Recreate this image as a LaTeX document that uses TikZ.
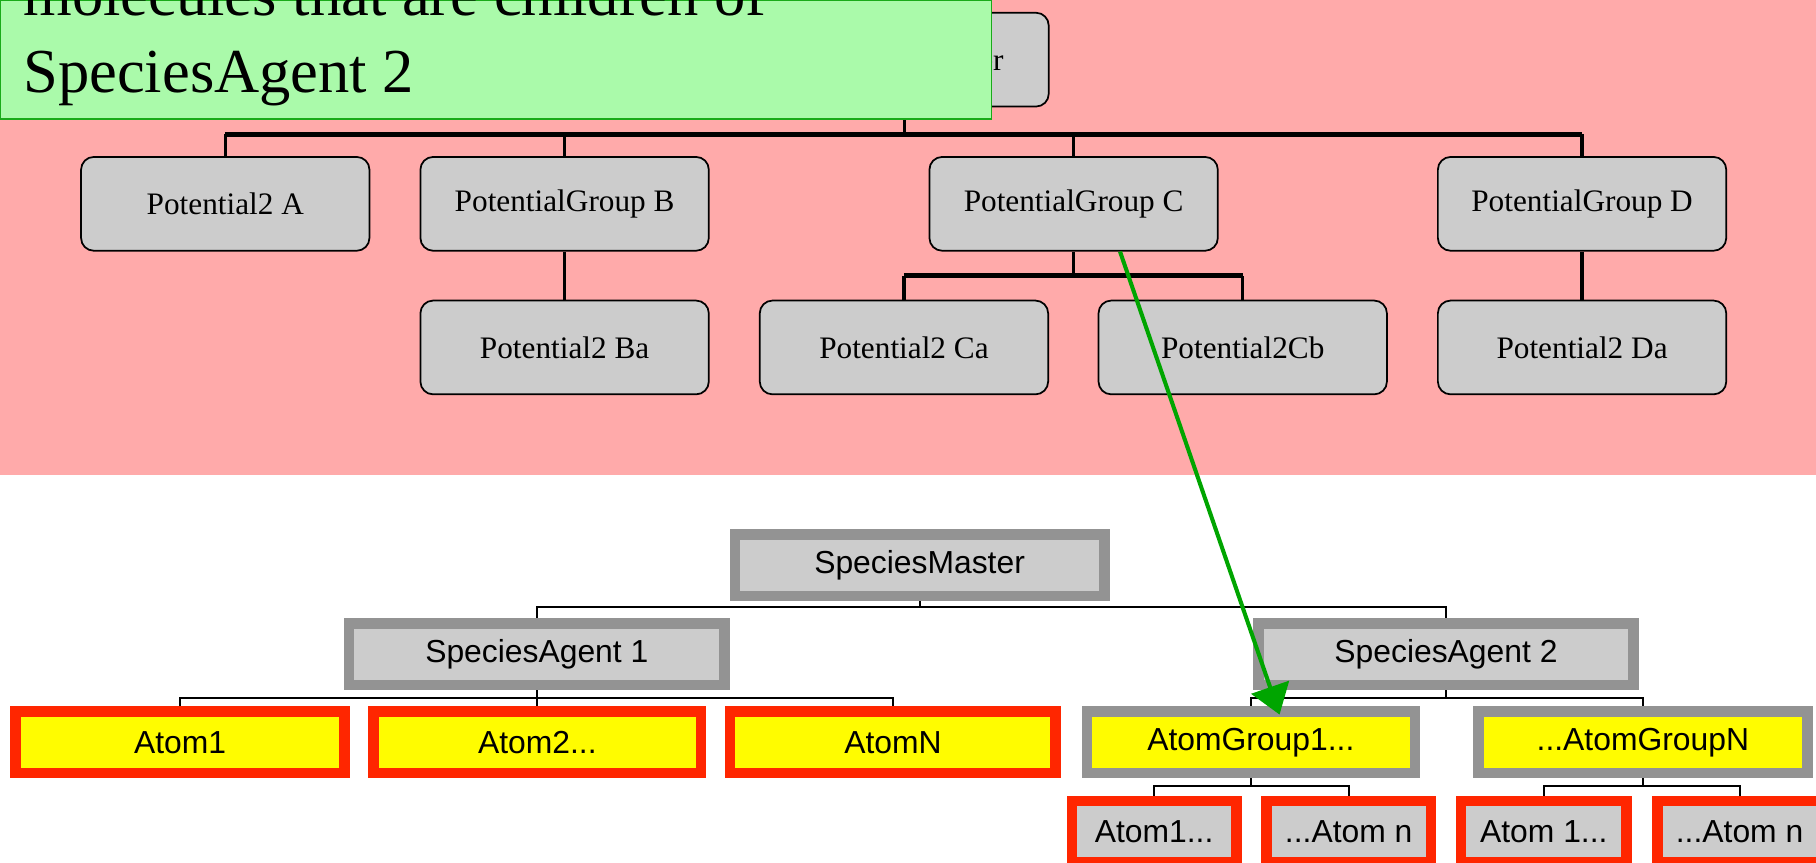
\documentclass[tikz,border=0pt]{standalone}
\usepackage{fontspec}
\setmainfont{Liberation Serif}
\newfontfamily\arialfont{Liberation Sans}
\usetikzlibrary{arrows.meta,calc}

\definecolor{pinkbg}{RGB}{255,170,170}
\definecolor{notegreen}{RGB}{170,250,170}
\definecolor{noteedge}{RGB}{25,170,25}
\definecolor{arrowgreen}{RGB}{0,165,0}
\definecolor{boxgray}{RGB}{204,204,204}
\definecolor{framegray}{RGB}{147,147,147}
\definecolor{framered}{RGB}{255,38,0}
\definecolor{atomyellow}{RGB}{255,252,0}

\tikzset{
  potbox/.style={draw=black, line width=1.5pt, fill=boxgray, rounded corners=11pt,
    minimum width=249pt, minimum height=81pt, inner sep=0pt,
    font=\fontsize{27}{30}\selectfont},
  potline/.style={line width=3pt},
  potbus/.style={line width=4.5pt},
  framebox/.style={line width=9pt, fill=boxgray, inner sep=0pt, minimum height=53pt,
    font=\arialfont\fontsize{27.5}{30}\selectfont},
  grayframe/.style={framebox, draw=framegray},
  redframe/.style={framebox, draw=framered},
  treeline/.style={line width=1.6pt},
  greenarrow/.style={draw=arrowgreen, line width=3.5pt,
    -{Triangle[length=25pt,width=34pt]}}
}

\begin{document}
\begin{tikzpicture}[x=1pt,y=-1pt]
\useasboundingbox (0,0) rectangle (1568,745);
\clip (0,0) rectangle (1568,745);

%background of the potential tree
\fill[pinkbg] (0,0) rectangle (1568,410);

%potential tree
\node[potbox] (PM) at (781,51.5) {PotentialMaster};

\node[potbox] (PA) at (194.5,176) {Potential2 A};
\node[potbox] (PGB) at (487.5,176) {PotentialGroup B};
\node[potbox] (PGC) at (927,176) {PotentialGroup C};
\node[potbox] (PGD) at (1366,176) {PotentialGroup D};

\node[potbox] (PBa) at (487.5,300) {Potential2 Ba};
\node[potbox] (PCa) at (780.5,300) {Potential2 Ca};
\node[potbox] (PCb) at (1073,300) {Potential2Cb};
\node[potbox] (PDa) at (1366,300) {Potential2 Da};

\coordinate (topbus) at (781,116);
\coordinate (cbus) at (927,238);

\draw[potline] (PM.south) -- (topbus);
\foreach \c in {PA,PGB,PGC,PGD}
  \draw[potline] (\c.north) -- (\c.north |- topbus);
\draw[potbus] (topbus -| PA.north) -- (topbus -| PGD.north);

\draw[potline] (PGB.south) -- (PBa.north);
\draw[potline] (PGD.south) -- (PDa.north);
\draw[potline] (PGC.south) -- (cbus);
\foreach \c in {PCa,PCb}
  \draw[potline] (\c.north) -- (\c.north |- cbus);
\draw[potbus] (cbus -| PCa.north) -- (cbus -| PCb.north);

%species tree
\node[grayframe, minimum width=319pt] (SM) at (794,488) {SpeciesMaster};

\node[grayframe, minimum width=324pt] (SA1) at (463.5,565) {SpeciesAgent 1};
\node[grayframe, minimum width=324pt] (SA2) at (1248.5,565) {SpeciesAgent 2};

\node[redframe, fill=atomyellow, minimum width=284pt] (A1) at (155.5,641) {Atom1};
\node[redframe, fill=atomyellow, minimum width=283pt] (A2) at (464,641) {Atom2...};
\node[redframe, fill=atomyellow, minimum width=281pt] (AN) at (771,641) {AtomN};

\node[grayframe, fill=atomyellow, minimum width=283pt] (AG1) at (1080,641) {AtomGroup1...};
\node[grayframe, fill=atomyellow, minimum width=284pt] (AGN) at (1418.5,641) {...AtomGroupN};

\node[redframe, minimum width=142pt] (a11) at (996.5,718) {Atom1...};
\node[redframe, minimum width=142pt] (a1n) at (1164.5,718) {...Atom n};
\node[redframe, minimum width=143pt] (aN1) at (1333,718) {Atom 1...};
\node[redframe, minimum width=142pt] (aNn) at (1502,718) {...Atom n};

\foreach \c in {SA1,SA2}
  \draw[treeline] (SM.south) -- ++(0,5) -| (\c.north);
\foreach \c in {A1,A2,AN}
  \draw[treeline] (SA1.south) -- ++(0,7) -| (\c.north);
\foreach \c in {AG1,AGN}
  \draw[treeline] (SA2.south) -- ++(0,7) -| (\c.north);
\foreach \c in {a11,a1n}
  \draw[treeline] (AG1.south) -- ++(0,7) -| (\c.north);
\foreach \c in {aN1,aNn}
  \draw[treeline] (AGN.south) -- ++(0,7) -| (\c.north);

%green arrow
\draw[greenarrow] ($(PGC.south west)!0.66!(PGC.south east)$) -- ($(AG1.north west)!0.585!(AG1.north east)+(0,7)$);

%note
\node[draw=noteedge, line width=1.5pt, fill=notegreen, minimum width=856pt, minimum height=103pt, inner sep=0pt] (note) at (428,51.5) {};
\node[anchor=base west, inner sep=0pt, font=\fontsize{54}{60}\selectfont] (noteA) at (20,13) {molecules that are children of};
\node[anchor=base west, inner sep=0pt, font=\fontsize{54}{60}\selectfont] (noteB) at (20,80) {SpeciesAgent 2};
\end{tikzpicture}
\end{document}
